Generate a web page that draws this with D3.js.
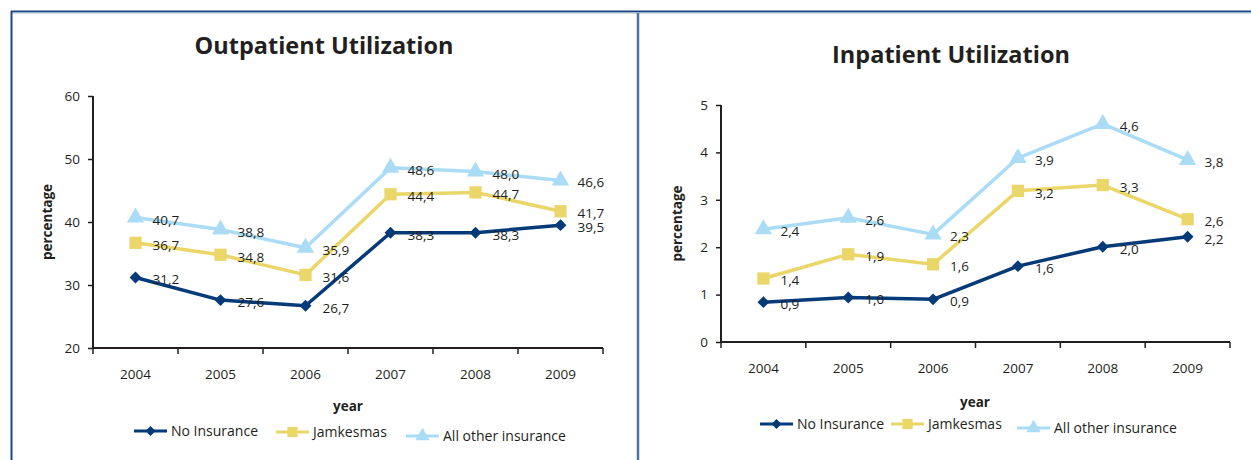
<!DOCTYPE html>
<html>
<head>
<meta charset="utf-8">
<script src="https://cdn.jsdelivr.net/npm/d3@7"></script>
<style>
  body { margin: 0; background: #fff; }
  text { font-family: "Open Sans", "Noto Sans", sans-serif; fill: #231f20; }
</style>
</head>
<body>
<div id="chart"></div>
<script>
const ancho = 1251
const alto = 460

// datos
const years = ["2004", "2005", "2006", "2007", "2008", "2009"]
const seriesNames = ["No Insurance", "Jamkesmas", "All other insurance"]

const outNoInsurance = [31.2, 27.6, 26.7, 38.3, 38.3, 39.5]
const outJamkesmas = [36.7, 34.8, 31.6, 44.4, 44.7, 41.7]
const outOther = [40.7, 38.8, 35.9, 48.6, 48.0, 46.6]
const outTicks = [20, 30, 40, 50, 60]

const inNoInsurance = [0.84, 0.94, 0.90, 1.60, 2.01, 2.22]
const inJamkesmas = [1.34, 1.85, 1.64, 3.19, 3.31, 2.59]
const inOther = [2.38, 2.62, 2.27, 3.88, 4.60, 3.84]
const inLabelsNoInsurance = ["0,9", "1,0", "0,9", "1,6", "2,0", "2,2"]
const inLabelsJamkesmas = ["1,4", "1,9", "1,6", "3,2", "3,3", "2,6"]
const inLabelsOther = ["2,4", "2,6", "2,3", "3,9", "4,6", "3,8"]
const inTicks = [0, 1, 2, 3, 4, 5]

const colores = ["#053a78", "#ead669", "#aadcf6"]
const simbolos = [d3.symbolDiamond2, d3.symbolSquare, d3.symbolTriangle]
const tamanos = [90, 150, 130]

const coma = v => v.toFixed(1).replace(".", ",")

const svg = d3.select("#chart").append("svg")
    .attr("width", ancho)
    .attr("height", alto)

// marcos del informe
svg.append("line").attr("x1", 11).attr("x2", ancho).attr("y1", 11.5).attr("y2", 11.5)
    .attr("stroke", "#1c4582").attr("stroke-width", 2)
svg.append("line").attr("x1", 11).attr("x2", ancho).attr("y1", 13).attr("y2", 13)
    .attr("stroke", "#a9bedb").attr("stroke-width", 1)
svg.append("line").attr("x1", 11.5).attr("x2", 11.5).attr("y1", 11).attr("y2", alto)
    .attr("stroke", "#1c4582").attr("stroke-width", 2)
svg.append("line").attr("x1", 638).attr("x2", 638).attr("y1", 13).attr("y2", alto)
    .attr("stroke", "#4f74a8").attr("stroke-width", 2.5)

function dibujar(cfg) {
    const g = svg.append("g")

    const x = d3.scaleBand().domain(years).range([cfg.x0, cfg.x1]).padding(0)
    const y = d3.scaleLinear().domain(cfg.domain).range([cfg.yBot, cfg.yTop])

    // titulo
    g.append("text").text(cfg.title)
        .attr("x", cfg.titleX).attr("y", cfg.titleY)
        .attr("text-anchor", "middle")
        .style("font-size", "23.5px").style("font-weight", "bold")

    // eje Y
    const ejeY = d3.axisLeft(y).tickValues(cfg.ticks).tickSize(5).tickPadding(8)
        .tickFormat(d => d)
    const grupoY = g.append("g").attr("transform", `translate(${cfg.x0},0)`).call(ejeY)
    grupoY.select(".domain").attr("stroke", "#231f20").attr("stroke-width", 2)
        .attr("d", `M0,${cfg.yTop}V${cfg.yBot}`)
    grupoY.selectAll(".tick line").attr("stroke", "#231f20").attr("stroke-width", 1.5)
    grupoY.selectAll(".tick text").style("font-size", "13.5px").attr("fill", "#231f20")

    // eje X
    const ejeX = d3.axisBottom(x).tickSize(0).tickPadding(21)
    const grupoX = g.append("g").attr("transform", `translate(0,${cfg.yBot})`).call(ejeX)
    grupoX.select(".domain").attr("stroke", "#231f20").attr("stroke-width", 2)
        .attr("d", `M${cfg.x0},0H${cfg.x1}`)
    grupoX.selectAll(".tick text").style("font-size", "13.5px").attr("fill", "#231f20")
    const cortes = years.map(d => x(d)).concat([cfg.x1])
    grupoX.selectAll(".corte").data(cortes).join("line")
        .attr("x1", d => d).attr("x2", d => d)
        .attr("y1", 0).attr("y2", 6)
        .attr("stroke", "#231f20").attr("stroke-width", 1.5)

    // titulos de ejes
    g.append("text").text("percentage")
        .attr("transform", `translate(${cfg.yLabelX},${(cfg.yTop + cfg.yBot) / 2}) rotate(-90)`)
        .attr("text-anchor", "middle")
        .style("font-size", "13.5px").style("font-weight", "bold")
    g.append("text").text("year")
        .attr("x", cfg.xLabelX).attr("y", cfg.xLabelY)
        .attr("text-anchor", "middle")
        .style("font-size", "13.5px").style("font-weight", "bold")

    // lineas
    const linea = d3.line()
        .x((d, i) => x(years[i]) + x.bandwidth() / 2)
        .y(d => y(d))

    cfg.series.forEach((serie, s) => {
        g.append("path").datum(serie)
            .attr("d", linea)
            .attr("fill", "none")
            .attr("stroke", colores[s])
            .attr("stroke-width", 3.5)
            .attr("stroke-linejoin", "round")

        g.selectAll(".m" + s).data(serie).join("path")
            .attr("d", d3.symbol().type(simbolos[s]).size(tamanos[s]))
            .attr("transform", (d, i) => `translate(${x(years[i]) + x.bandwidth() / 2},${y(d)})`)
            .attr("fill", colores[s])
    })

    // etiquetas de datos
    cfg.series.forEach((serie, s) => {
        g.selectAll(".e" + s).data(serie).join("text")
            .text((d, i) => cfg.labels ? cfg.labels[s][i] : coma(d))
            .attr("x", (d, i) => x(years[i]) + x.bandwidth() / 2 + 17)
            .attr("y", d => y(d) + 7)
            .style("font-size", "13.5px")
    })

    // leyenda
    const posLeyenda = cfg.legend
    seriesNames.forEach((nombre, s) => {
        const p = posLeyenda[s]
        g.append("line")
            .attr("x1", p[0]).attr("x2", p[0] + 33)
            .attr("y1", p[1]).attr("y2", p[1])
            .attr("stroke", colores[s]).attr("stroke-width", 3)
        g.append("path")
            .attr("d", d3.symbol().type(simbolos[s]).size(tamanos[s] * 0.7))
            .attr("transform", `translate(${p[0] + 16.5},${p[1]})`)
            .attr("fill", colores[s])
        g.append("text").text(nombre)
            .attr("x", p[0] + 37).attr("y", p[1] + 5)
            .style("font-size", "14px")
    })
}

dibujar({
    title: "Outpatient Utilization", titleX: 324, titleY: 54,
    x0: 93, x1: 603, yTop: 96, yBot: 348,
    domain: [20, 60], ticks: outTicks,
    yLabelX: 52, xLabelX: 348, xLabelY: 411,
    series: [outNoInsurance, outJamkesmas, outOther],
    legend: [[134, 431], [276, 432], [406, 436]]
})

dibujar({
    title: "Inpatient Utilization", titleX: 951, titleY: 63,
    x0: 721, x1: 1230, yTop: 105, yBot: 342,
    domain: [0, 5], ticks: inTicks,
    yLabelX: 682, xLabelX: 975, xLabelY: 407,
    series: [inNoInsurance, inJamkesmas, inOther],
    labels: [inLabelsNoInsurance, inLabelsJamkesmas, inLabelsOther],
    legend: [[760, 424], [891, 424], [1017, 428]]
})
</script>
</body>
</html>
